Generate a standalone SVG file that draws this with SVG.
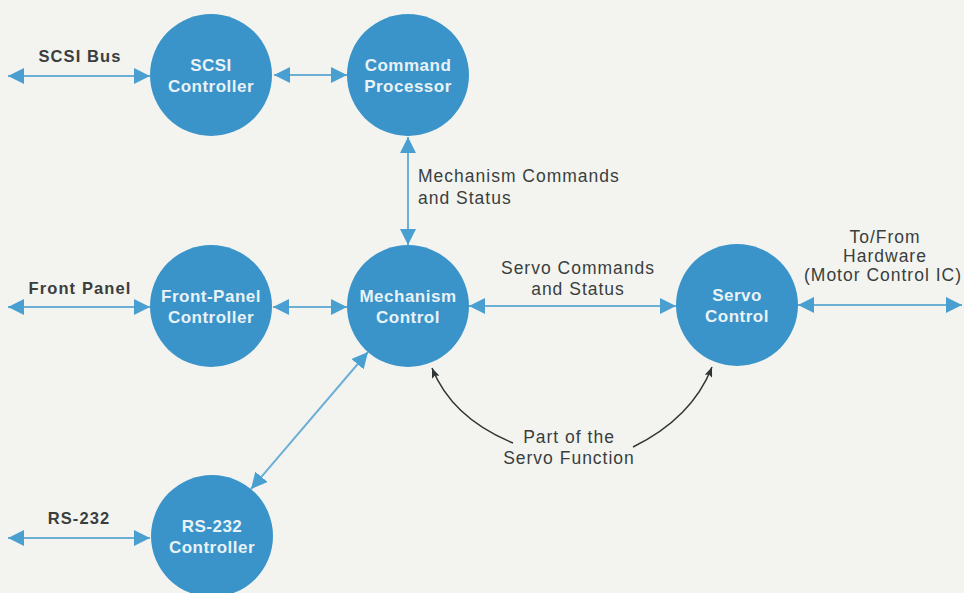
<svg xmlns="http://www.w3.org/2000/svg" width="964" height="593" viewBox="0 0 964 593">
<style>
.node{fill:#3a94ca}
.nt{font-family:"Liberation Sans",Arial,sans-serif;font-weight:700;font-size:17px;letter-spacing:0.5px;fill:#e9f2f6;text-anchor:middle}
.lb{font-family:"Liberation Sans",Arial,sans-serif;font-size:17.5px;letter-spacing:1px;fill:#3a3e3d}
.lbb{font-family:"Liberation Sans",Arial,sans-serif;font-weight:700;font-size:16.5px;letter-spacing:1.1px;fill:#3a3e3d}
.c{text-anchor:middle}
.conn{stroke:#6cafd6;stroke-width:2;fill:none;marker-start:url(#ah);marker-end:url(#ah)}
.curve{stroke:#2f3434;stroke-width:1.5;fill:none;marker-end:url(#sh)}
</style>
<defs>
<marker id="ah" viewBox="0 0 16 16" refX="16" refY="8" markerWidth="16" markerHeight="16" markerUnits="userSpaceOnUse" orient="auto-start-reverse">
<path d="M0,0 L16,8 L0,16 Z" fill="#4a9fd1"/>
</marker>
<marker id="sh" viewBox="0 0 10 8" refX="10" refY="4" markerWidth="10" markerHeight="8" markerUnits="userSpaceOnUse" orient="auto">
<path d="M0,0 L10,4 L0,8 L2,4 Z" fill="#2f3434"/>
</marker>
</defs>
<rect width="964" height="593" fill="#f3f4f0"/>

<g id="connectors">
<line class="conn" x1="8" y1="76" x2="150" y2="76"/>
<line class="conn" x1="274" y1="75" x2="347" y2="75"/>
<line class="conn" x1="408" y1="137" x2="408" y2="245"/>
<line class="conn" x1="8" y1="307" x2="150" y2="307"/>
<line class="conn" x1="273" y1="307" x2="347" y2="307"/>
<line class="conn" x1="469" y1="306" x2="676" y2="306"/>
<line class="conn" x1="798" y1="305" x2="962" y2="305"/>
<line class="conn" x1="8" y1="538" x2="150" y2="538"/>
<line class="conn" x1="368" y1="352" x2="251" y2="489"/>
<path class="curve" d="M513,443 Q452,418 432,368"/>
<path class="curve" d="M633,447 Q692,418 712,367"/>
</g>

<g id="scsi-controller">
<circle class="node" cx="211" cy="75" r="61"/>
<text class="nt" x="211" y="71">SCSI</text>
<text class="nt" x="211" y="92">Controller</text>
</g>
<g id="command-processor">
<circle class="node" cx="408" cy="75" r="61"/>
<text class="nt" x="408" y="71">Command</text>
<text class="nt" x="408" y="92">Processor</text>
</g>
<g id="front-panel-controller">
<circle class="node" cx="211" cy="306" r="61"/>
<text class="nt" x="211" y="302">Front-Panel</text>
<text class="nt" x="211" y="323">Controller</text>
</g>
<g id="mechanism-control">
<circle class="node" cx="408" cy="306" r="61"/>
<text class="nt" x="408" y="302">Mechanism</text>
<text class="nt" x="408" y="323">Control</text>
</g>
<g id="servo-control">
<circle class="node" cx="737" cy="305" r="61"/>
<text class="nt" x="737" y="301">Servo</text>
<text class="nt" x="737" y="322">Control</text>
</g>
<g id="rs232-controller">
<circle class="node" cx="212" cy="536" r="61"/>
<text class="nt" x="212" y="532">RS-232</text>
<text class="nt" x="212" y="553">Controller</text>
</g>

<g id="labels">
<text class="lbb c" x="80" y="62">SCSI Bus</text>
<text class="lbb c" x="80" y="294">Front Panel</text>
<text class="lbb c" x="79" y="524">RS-232</text>
<text class="lb" x="418" y="182">Mechanism Commands</text>
<text class="lb" x="418" y="204">and Status</text>
<text class="lb c" x="578" y="274">Servo Commands</text>
<text class="lb c" x="578" y="295">and Status</text>
<text class="lb c" x="885" y="243">To/From</text>
<text class="lb c" x="885" y="262">Hardware</text>
<text class="lb c" x="883" y="281">(Motor Control IC)</text>
<text class="lb c" x="569" y="443">Part of the</text>
<text class="lb c" x="569" y="464">Servo Function</text>
</g>
</svg>
